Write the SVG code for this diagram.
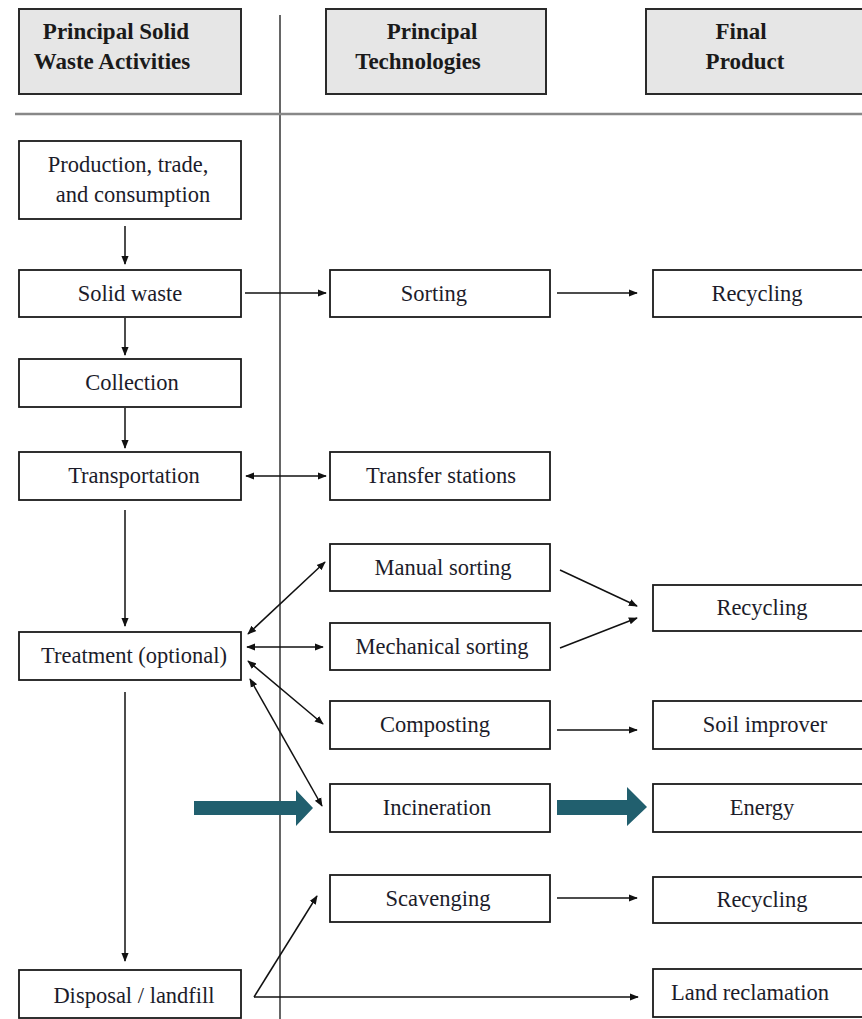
<svg xmlns="http://www.w3.org/2000/svg" width="862" height="1019" viewBox="0 0 862 1019">
<style>
.hdr{fill:#e6e6e6;stroke:#2a2a2a;stroke-width:2}
.box{fill:#fff;stroke:#1a1a1a;stroke-width:1.8}
.ht{font-family:"Liberation Serif",serif;font-weight:bold;font-size:23px;fill:#1a1a1a;text-anchor:middle}
.t{font-family:"Liberation Serif",serif;font-size:22.5px;fill:#1c1c2a;text-anchor:middle}
.c{stroke:#111;stroke-width:1.5;fill:none}
.teal{fill:#215f6e}
</style>
<defs>
<marker id="ah" viewBox="0 0 10 10" refX="9" refY="5" markerWidth="9" markerHeight="9" markerUnits="userSpaceOnUse" orient="auto-start-reverse">
<path d="M0,1 L10,5 L0,9 Z" fill="#111"/>
</marker>
</defs>
<rect width="862" height="1019" fill="#fff"/>
<g id="guides">
<line x1="280" y1="15" x2="280" y2="1019" stroke="#666" stroke-width="2"/>
<line x1="15" y1="114" x2="862" y2="114" stroke="#888" stroke-width="2.5"/>
</g>
<g id="h1"><rect class="hdr" x="19" y="9" width="222" height="85"/><text class="ht" x="116" y="39">Principal Solid</text><text class="ht" x="112" y="69">Waste Activities</text></g>
<g id="h2"><rect class="hdr" x="326" y="9" width="220" height="85"/><text class="ht" x="432" y="39">Principal</text><text class="ht" x="418" y="69">Technologies</text></g>
<g id="h3"><rect class="hdr" x="646" y="9" width="224" height="85"/><text class="ht" x="741" y="39">Final</text><text class="ht" x="745" y="69">Product</text></g>

<g id="production"><rect class="box" x="19" y="141" width="222" height="78"/><text class="t" x="128" y="172">Production, trade,</text><text class="t" x="133" y="202">and consumption</text></g>
<g id="solidwaste"><rect class="box" x="19" y="270" width="222" height="47"/><text class="t" x="130" y="301">Solid waste</text></g>
<g id="collection"><rect class="box" x="19" y="359" width="222" height="48"/><text class="t" x="132" y="390">Collection</text></g>
<g id="transportation"><rect class="box" x="19" y="452" width="222" height="48"/><text class="t" x="134" y="483">Transportation</text></g>
<g id="treatment"><rect class="box" x="19" y="632" width="222" height="48"/><text class="t" x="134" y="663">Treatment (optional)</text></g>
<g id="disposal"><rect class="box" x="19" y="970" width="222" height="48"/><text class="t" x="134" y="1003">Disposal / landfill</text></g>

<g id="sorting"><rect class="box" x="330" y="270" width="220" height="47"/><text class="t" x="434" y="301">Sorting</text></g>
<g id="transfer"><rect class="box" x="330" y="452" width="220" height="48"/><text class="t" x="441" y="483">Transfer stations</text></g>
<g id="manual"><rect class="box" x="330" y="544" width="220" height="47"/><text class="t" x="443" y="575">Manual sorting</text></g>
<g id="mechanical"><rect class="box" x="330" y="623" width="220" height="47"/><text class="t" x="442" y="654">Mechanical sorting</text></g>
<g id="composting"><rect class="box" x="330" y="701" width="220" height="48"/><text class="t" x="435" y="732">Composting</text></g>
<g id="incineration"><rect class="box" x="330" y="784" width="220" height="48"/><text class="t" x="437" y="815">Incineration</text></g>
<g id="scavenging"><rect class="box" x="330" y="875" width="220" height="47"/><text class="t" x="438" y="906">Scavenging</text></g>

<g id="recycling1"><rect class="box" x="653" y="270" width="220" height="47"/><text class="t" x="757" y="301">Recycling</text></g>
<g id="recycling2"><rect class="box" x="653" y="585" width="220" height="46"/><text class="t" x="762" y="615">Recycling</text></g>
<g id="soil"><rect class="box" x="653" y="701" width="220" height="48"/><text class="t" x="765" y="732">Soil improver</text></g>
<g id="energy"><rect class="box" x="653" y="784" width="220" height="48"/><text class="t" x="762" y="815">Energy</text></g>
<g id="recycling3"><rect class="box" x="653" y="877" width="220" height="46"/><text class="t" x="762" y="907">Recycling</text></g>
<g id="land"><rect class="box" x="653" y="969" width="220" height="48"/><text class="t" x="750" y="1000">Land reclamation</text></g>

<g id="connectors">
<line class="c" x1="125" y1="226" x2="125" y2="264" marker-end="url(#ah)"/>
<line class="c" x1="125" y1="318" x2="125" y2="355" marker-end="url(#ah)"/>
<line class="c" x1="125" y1="408" x2="125" y2="448" marker-end="url(#ah)"/>
<line class="c" x1="125" y1="510" x2="125" y2="626" marker-end="url(#ah)"/>
<line class="c" x1="125" y1="692" x2="125" y2="961" marker-end="url(#ah)"/>
<line class="c" x1="245" y1="293" x2="326" y2="293" marker-end="url(#ah)"/>
<line class="c" x1="557" y1="293" x2="637" y2="293" marker-end="url(#ah)"/>
<line class="c" x1="246" y1="476" x2="326" y2="476" marker-start="url(#ah)" marker-end="url(#ah)"/>
<line class="c" x1="248" y1="634" x2="325" y2="562" marker-start="url(#ah)" marker-end="url(#ah)"/>
<line class="c" x1="247" y1="647" x2="323" y2="647" marker-start="url(#ah)" marker-end="url(#ah)"/>
<line class="c" x1="248" y1="661" x2="323" y2="724" marker-start="url(#ah)" marker-end="url(#ah)"/>
<line class="c" x1="250" y1="679" x2="322" y2="806" marker-start="url(#ah)" marker-end="url(#ah)"/>
<line class="c" x1="560" y1="570" x2="637" y2="606" marker-end="url(#ah)"/>
<line class="c" x1="560" y1="648" x2="637" y2="618" marker-end="url(#ah)"/>
<line class="c" x1="557" y1="730" x2="637" y2="730" marker-end="url(#ah)"/>
<line class="c" x1="557" y1="898" x2="637" y2="898" marker-end="url(#ah)"/>
<line class="c" x1="254" y1="997" x2="317" y2="896" marker-end="url(#ah)"/>
<line class="c" x1="254" y1="997" x2="638" y2="997" stroke="#555" marker-end="url(#ah)"/>
<polygon class="teal" points="194,801 296,801 296,790 313,808 296,826 296,815 194,815"/>
<polygon class="teal" points="557,800 627,800 627,787 647,807 627,826 627,815 557,815"/>
</g>
</svg>
